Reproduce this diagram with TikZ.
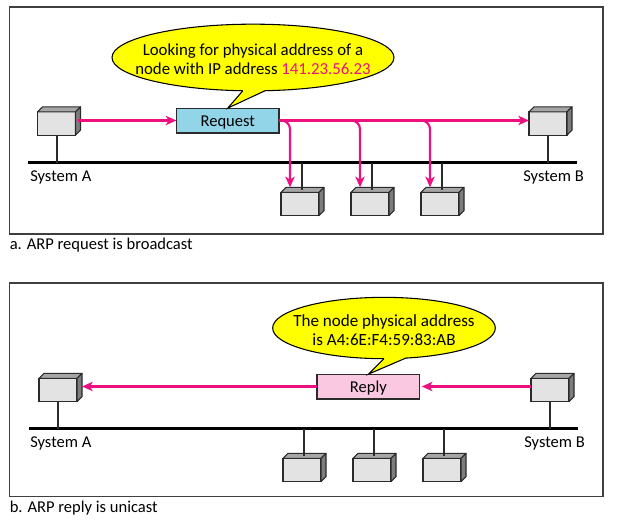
\documentclass[tikz,border=0pt]{standalone}
\usepackage{xcolor}
\usepackage{fontspec}
\setmainfont{Carlito}
\usepackage{tikz}
\usetikzlibrary{shapes,arrows.meta,positioning}

\definecolor{hostfront}{HTML}{E3E3E3}
\definecolor{hosttopc}{HTML}{A6A6A6}
\definecolor{hostsidec}{HTML}{7D7D7D}
\definecolor{linedark}{HTML}{2B2B2B}
\definecolor{framec}{HTML}{3F3F3F}
\definecolor{castpink}{HTML}{EC1080}
\definecolor{reqblue}{HTML}{93D5E8}
\definecolor{replypink}{HTML}{FBC8E2}
\definecolor{bubble}{HTML}{FFFF00}

% one host: front as a node, top and side faces behind it
\newcommand{\hostnode}[2]{
  \node[host, #1] (#2) {};
  \draw[hostface, fill=hosttopc] (#2.north west) -- ++(3.75pt,3.75pt) -- ++(28.5pt,0) -- (#2.north east) -- cycle;
  \draw[hostface, fill=hostsidec] (#2.north east) -- ++(3.75pt,3.75pt) -- ++(0,-17.5pt) -- (#2.south east) -- cycle;
}

\begin{document}
\begin{tikzpicture}[
    x=0.75pt, y=-0.75pt,
    host/.style={rectangle, draw=linedark, fill=hostfront, line width=0.8pt, minimum width=28.5pt, minimum height=17.5pt, inner sep=0pt, outer sep=0pt},
    hostface/.style={draw=linedark, line width=0.8pt, line join=round},
    bus/.style={rectangle, fill=black, minimum width=412pt, minimum height=2.4pt, inner sep=0pt, outer sep=0pt},
    drop/.style={draw=linedark, line width=1.5pt},
    msgbox/.style={rectangle, draw=linedark, line width=0.9pt, minimum width=77pt, minimum height=18.6pt, inner sep=0pt, outer sep=0pt, text height=9pt, text depth=0.5pt, font=\fontsize{12.4pt}{14pt}\selectfont},
    bubblenode/.style={ellipse, draw=black, fill=bubble, line width=0.8pt, inner sep=0pt, outer sep=0pt},
    bubbletext/.style={inner sep=0pt, align=center, font=\fontsize{12.6pt}{14pt}\selectfont},
    frame/.style={rectangle, draw=framec, line width=1pt, minimum width=445pt, inner sep=0pt, outer sep=0pt},
    arrow/.style={-{Stealth[length=8pt, width=7pt, inset=2.2pt]}, draw=castpink, line width=1.6pt},
    branch/.style={arrow, rounded corners=6.5pt},
    caption/.style={anchor=west, inner sep=0pt, font=\fontsize{12.4pt}{14pt}\selectfont},
    sysname/.style={anchor=west, inner sep=0pt, font=\fontsize{12.4pt}{14pt}\selectfont}
]
\useasboundingbox (0,0) rectangle (621,522);

% Panel a
\node[frame, minimum height=170.2pt] (framea) at (306.25,120.5) {};
\node[bus] (busa) at (302.5,162.5) {};
\node[sysname] (namea) at (30,177) {System A};
\node[sysname] (nameb) at (523,177) {System B};
\node[caption] (capa) at (9.5,245.5) {a. ARP request is broadcast};

\hostnode{at={(56.5,123.5)}}{hosta}
\hostnode{at={(548,123.5)}}{hostb}
\hostnode{at={(300,204)}}{hostc}
\hostnode{right=24pt of hostc}{hostd}
\hostnode{right=24pt of hostd}{hoste}

\draw[drop] (hosta.south) -- (hosta.south |- busa);
\draw[drop] (hostb.south) -- (hostb.south |- busa);
\draw[drop] ([xshift=1.5pt,yshift=2pt]hostc.north) -- ([xshift=1.5pt]hostc.north |- busa);
\draw[drop] ([xshift=1.5pt,yshift=2pt]hostd.north) -- ([xshift=1.5pt]hostd.north |- busa);
\draw[drop] ([xshift=1.5pt,yshift=2pt]hoste.north) -- ([xshift=1.5pt]hoste.north |- busa);

\node[msgbox, fill=reqblue] (request) at (227.75,120.5) {Request};

% Speech bubble of the request
\node[bubblenode, minimum width=211.5pt, minimum height=50pt] (asking) at (253,57.5) {};
\fill[bubble] (asking.-70) -- (request.north) -- (asking.-107) -- (asking.center) -- cycle;
\draw[line width=0.8pt] (asking.-70) -- (request.north) -- (asking.-107);
\node[bubbletext] (askingtext) at ([yshift=-1.5pt]asking.center) {Looking for physical address of a\\node with IP address \textcolor{castpink}{141.23.56.23}};

% Broadcast arrows
\draw[arrow] ([xshift=1.5pt]hosta.east |- request) -- (request.west);
\draw[branch] (request.east) -- (hostb.west |- request);
\draw[branch] (request.east) -| ([xshift=-7.5pt,yshift=3.75pt]hostc.north);
\draw[branch] (request.east) -| ([xshift=-7.5pt,yshift=3.75pt]hostd.north);
\draw[branch] (request.east) -| ([xshift=-7.5pt,yshift=3.75pt]hoste.north);

% Panel b
\node[frame, minimum height=160pt] (frameb) at (306.25,389.5) {};
\node[bus] (busb) at (303.5,428.7) {};
\node[sysname] (namec) at (30,443) {System A};
\node[sysname] (named) at (524,443) {System B};
\node[caption] (capb) at (9.5,508.5) {b. ARP reply is unicast};

\hostnode{at={(58,390)}}{hostf}
\hostnode{at={(550,390)}}{hostg}
\hostnode{at={(302,470)}}{hosth}
\hostnode{right=24pt of hosth}{hosti}
\hostnode{right=24pt of hosti}{hostj}

\draw[drop] (hostf.south) -- (hostf.south |- busb);
\draw[drop] (hostg.south) -- (hostg.south |- busb);
\draw[drop] ([xshift=1.5pt,yshift=2pt]hosth.north) -- ([xshift=1.5pt]hosth.north |- busb);
\draw[drop] ([xshift=1.5pt,yshift=2pt]hosti.north) -- ([xshift=1.5pt]hosti.north |- busb);
\draw[drop] ([xshift=1.5pt,yshift=2pt]hostj.north) -- ([xshift=1.5pt]hostj.north |- busb);

\node[msgbox, fill=replypink] (reply) at (368.4,386.5) {Reply};

% Speech bubble of the reply
\node[bubblenode, minimum width=167pt, minimum height=46pt] (answer) at (384,328) {};
\fill[bubble] (answer.-54) -- (reply.north) -- (answer.-90) -- (answer.center) -- cycle;
\draw[line width=0.8pt] (answer.-54) -- (reply.north) -- (answer.-90);
\node[bubbletext, font=\fontsize{12.8pt}{14.5pt}\selectfont] (answertext) at ([yshift=-1.5pt]answer.center) {The node physical address\\is A4:6E:F4:59:83:AB};

% Unicast arrows
\draw[arrow] (hostg.west |- reply) -- ([xshift=1.5pt]reply.east);
\draw[arrow] (reply.west) -- ([xshift=3.75pt]hostf.east |- reply);

\end{tikzpicture}
\end{document}
